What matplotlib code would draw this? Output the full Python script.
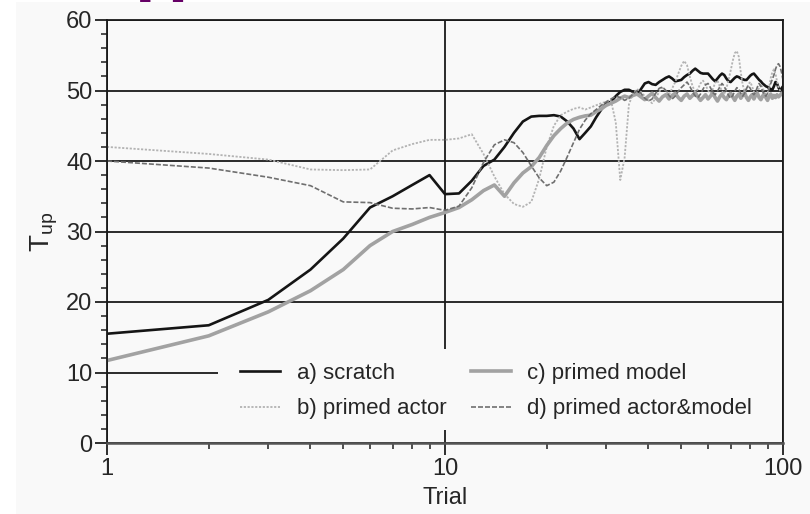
import numpy as np
import matplotlib
matplotlib.use("Agg")
import matplotlib.pyplot as plt
from matplotlib.lines import Line2D
from matplotlib.patches import Rectangle
from matplotlib.ticker import FixedLocator, LogLocator, NullFormatter, FixedFormatter

plt.rcParams['font.family'] = ['Liberation Sans', 'DejaVu Sans']
plt.rcParams['mathtext.fontset'] = 'custom'
plt.rcParams['mathtext.rm'] = 'Liberation Sans'

# ---- data ----
trials = np.arange(1, 101)

scratch = [
    15.5, 16.7, 20.3, 24.6, 29.0, 33.4, 35.0, 36.6, 38.0, 35.3,
    35.4, 37.2, 39.3, 40.2, 42.0, 44.0, 45.6, 46.3, 46.4, 46.4,
    46.5, 46.3, 45.6, 44.6, 43.1, 44.0, 44.9, 46.2, 47.3, 48.2,
    48.4, 49.2, 49.8, 50.1, 50.1, 49.8, 49.4, 50.2, 51.0, 51.2,
    50.9, 50.8, 51.2, 51.5, 51.8, 52.0, 51.7, 51.3, 51.4, 51.5,
    51.9, 52.2, 52.4, 52.8, 53.1, 52.8, 52.5, 52.4, 52.4, 52.4,
    52.0, 51.6, 51.3, 51.7, 52.1, 52.4, 52.2, 51.7, 51.3, 51.2,
    51.5, 51.8, 52.0, 51.9, 51.7, 51.6, 51.5, 51.5, 51.8, 52.1,
    52.3, 52.4, 52.1, 51.8, 51.5, 51.3, 51.0, 50.8, 50.6, 50.5,
    50.3, 50.2, 50.1, 50.6, 51.2, 51.0, 50.4, 50.0, 50.3, 50.6,
]

primed_actor = [
    42.0, 41.0, 40.2, 38.8, 38.7, 38.8, 41.5, 42.4, 43.0, 43.0,
    43.2, 43.8, 41.0, 37.8, 35.3, 33.9, 33.5, 34.2, 37.5, 42.0,
    45.0, 46.5, 47.0, 47.4, 47.6, 47.3, 47.6, 47.9, 48.2, 48.4,
    48.5, 45.5, 37.3, 40.5, 48.0, 49.6, 50.2, 49.8, 49.2, 48.6,
    48.2, 48.9, 49.8, 50.4, 50.0, 49.4, 50.3, 51.2, 52.4, 53.5,
    54.2, 53.6, 52.0, 50.6, 49.8, 50.2, 51.0, 51.4, 50.8, 50.0,
    49.6, 50.2, 51.1, 51.4, 50.6, 49.9, 49.5, 50.3, 51.5, 52.8,
    54.2, 55.3, 55.6, 54.8, 52.6, 50.8, 49.9, 50.2, 50.9, 51.2,
    50.6, 49.8, 49.3, 49.8, 50.4, 50.9, 50.5, 49.7, 49.2, 49.6,
    50.5, 51.8, 52.6, 53.0, 52.4, 51.3, 50.4, 50.0, 49.6, 49.8,
]

primed_model = [
    11.7, 15.2, 18.6, 21.6, 24.6, 28.0, 30.0, 31.0, 32.0, 32.7,
    33.4, 34.5, 35.8, 36.6, 35.0, 36.9, 38.3, 39.2, 40.5, 42.2,
    43.6, 44.6, 45.4, 45.9, 46.2, 46.4, 46.5, 47.0, 47.4, 47.9,
    48.2, 48.5, 48.9, 49.2, 49.0, 49.3, 49.5, 49.1, 48.7, 49.2,
    49.6, 49.0, 48.5, 49.1, 49.4, 48.8, 49.3, 49.6, 49.0, 48.6,
    49.2, 49.5, 48.9, 49.3, 49.7, 49.1, 48.6, 49.0, 49.4, 48.8,
    49.2, 49.6, 49.0, 48.5, 49.1, 49.5, 49.0, 48.7, 49.3, 49.6,
    49.1, 48.6, 49.2, 49.5, 48.9, 49.3, 49.7, 49.0, 48.6, 49.1,
    49.4, 48.8, 49.3, 49.6, 49.0, 48.7, 49.2, 49.5, 49.0, 48.6,
    49.2, 49.5, 48.9, 49.3, 49.0, 49.4, 49.1, 49.3, 49.6, 49.4,
]

primed_both = [
    40.0, 39.0, 37.7, 36.5, 34.2, 34.1, 33.3, 33.2, 33.4, 33.0,
    33.6, 36.2, 39.8, 42.3, 43.0, 42.6, 41.2, 39.3, 37.6, 36.5,
    37.0, 38.6, 40.6, 42.6, 44.5, 45.8, 46.7, 47.3, 47.9, 48.4,
    48.8, 49.2, 49.0, 48.6, 48.9, 49.5, 50.0, 49.6, 48.9, 48.5,
    48.8, 49.6, 50.3, 50.5, 50.0, 49.3, 48.8, 49.2, 49.9, 50.4,
    50.8, 51.2, 50.6, 49.8, 49.2, 49.0, 49.5, 50.2, 50.8, 51.0,
    50.4, 49.7, 49.4, 49.9, 50.5, 51.0, 50.6, 49.9, 49.3, 48.9,
    49.3, 49.9, 50.4, 50.2, 49.6, 49.2, 49.6, 50.3, 50.7, 50.3,
    49.7, 49.4, 49.8, 50.5, 51.0, 50.6, 49.9, 49.4, 49.2, 49.6,
    50.4, 51.0, 51.6, 52.2, 53.0, 53.6, 53.8, 53.4, 52.6, 51.5,
]

labels = ['a) scratch', 'b) primed actor', 'c) primed model', 'd) primed actor&model']
y_ticks = [0, 10, 20, 30, 40, 50, 60]
x_ticks = [1, 10, 100]
x_ticklabels = ['1', '10', '100']

# ---- styles ----
bg = '#f9f9f9'
ink = '#1e1e1e'
txt = '#262626'
styles = [
    dict(color='#151515', lw=1.9, ls='-'),
    dict(color='#b3b3b3', lw=1.3, ls=(0, (1.2, 0.9))),
    dict(color='#a2a2a2', lw=2.6, ls='-'),
    dict(color='#6f6f6f', lw=1.2, ls=(0, (3.0, 1.2))),
]

fig = plt.figure(figsize=(8.1, 5.14), dpi=100, facecolor=bg)
ax = fig.add_axes([107 / 810, 1 - 443 / 514, 676 / 810, 423 / 514])
ax.set_facecolor(bg)

# white margins of the page
fig.patches.append(Rectangle((0, 0), 16 / 810, 1, transform=fig.transFigure,
                             facecolor='white', edgecolor='none', zorder=0))
fig.patches.append(Rectangle((0, 1 - 2 / 514), 1, 2 / 514, transform=fig.transFigure,
                             facecolor='white', edgecolor='none', zorder=0))
fig.text(138 / 810, 1 + 6 / 514, '[  ]', color='#660066', fontsize=28,
         fontweight='bold', ha='left', va='baseline')

series = [scratch, primed_actor, primed_model, primed_both]
draw_order = [2, 1, 3, 0]
for i in draw_order:
    ax.plot(trials, series[i], zorder=2 + 0.1 * i, solid_capstyle='butt', **styles[i])

ax.set_xscale('log')
ax.set_xlim(1, 100)
ax.set_ylim(0, 60)

ax.xaxis.set_major_locator(FixedLocator(x_ticks))
ax.xaxis.set_major_formatter(FixedFormatter(x_ticklabels))
ax.xaxis.set_minor_locator(LogLocator(base=10, subs=np.arange(2, 10)))
ax.xaxis.set_minor_formatter(NullFormatter())
ax.yaxis.set_major_locator(FixedLocator(y_ticks))
ax.yaxis.set_minor_locator(FixedLocator(np.arange(0, 61, 2)))

ax.set_axisbelow(True)
ax.grid(True, which='major', color='#1a1a1a', lw=1.3)

# blank band behind the legend
ax.add_patch(Rectangle((111 / 676, 1.8), 675 / 676 - 111 / 676, 11.6,
                       transform=ax.get_yaxis_transform(),
                       facecolor=bg, edgecolor='none', zorder=1))

for s in ax.spines.values():
    s.set_color('#1a1a1a')
    s.set_linewidth(1.3)
    s.set_zorder(6)
ax.spines['bottom'].set_color('#555555')
ax.spines['bottom'].set_linewidth(1.8)

ax.tick_params(which='major', direction='out', length=8.5, width=1.3, color=ink,
               labelsize=17, labelcolor=txt, pad=2)
ax.tick_params(which='minor', direction='out', length=4.5, width=1.1, color=ink)

ax.set_xlabel('Trial', fontsize=17, color=txt, labelpad=5)
ax.set_ylabel(r'$\mathrm{T}_{\mathrm{up}}$', fontsize=20, color=txt, labelpad=4)

handles = [Line2D([], [], **styles[i]) for i in range(4)]
ax.legend(handles, labels, ncol=2, loc='upper left',
          bbox_to_anchor=(240 / 810, 1 - 363 / 514), bbox_transform=fig.transFigure,
          frameon=False, fontsize=16, handlelength=1.8, handletextpad=0.75,
          columnspacing=1.1, labelspacing=0.65, borderpad=0, borderaxespad=0,
          labelcolor=txt)

fig.savefig('out.png', dpi=100, facecolor=bg)
